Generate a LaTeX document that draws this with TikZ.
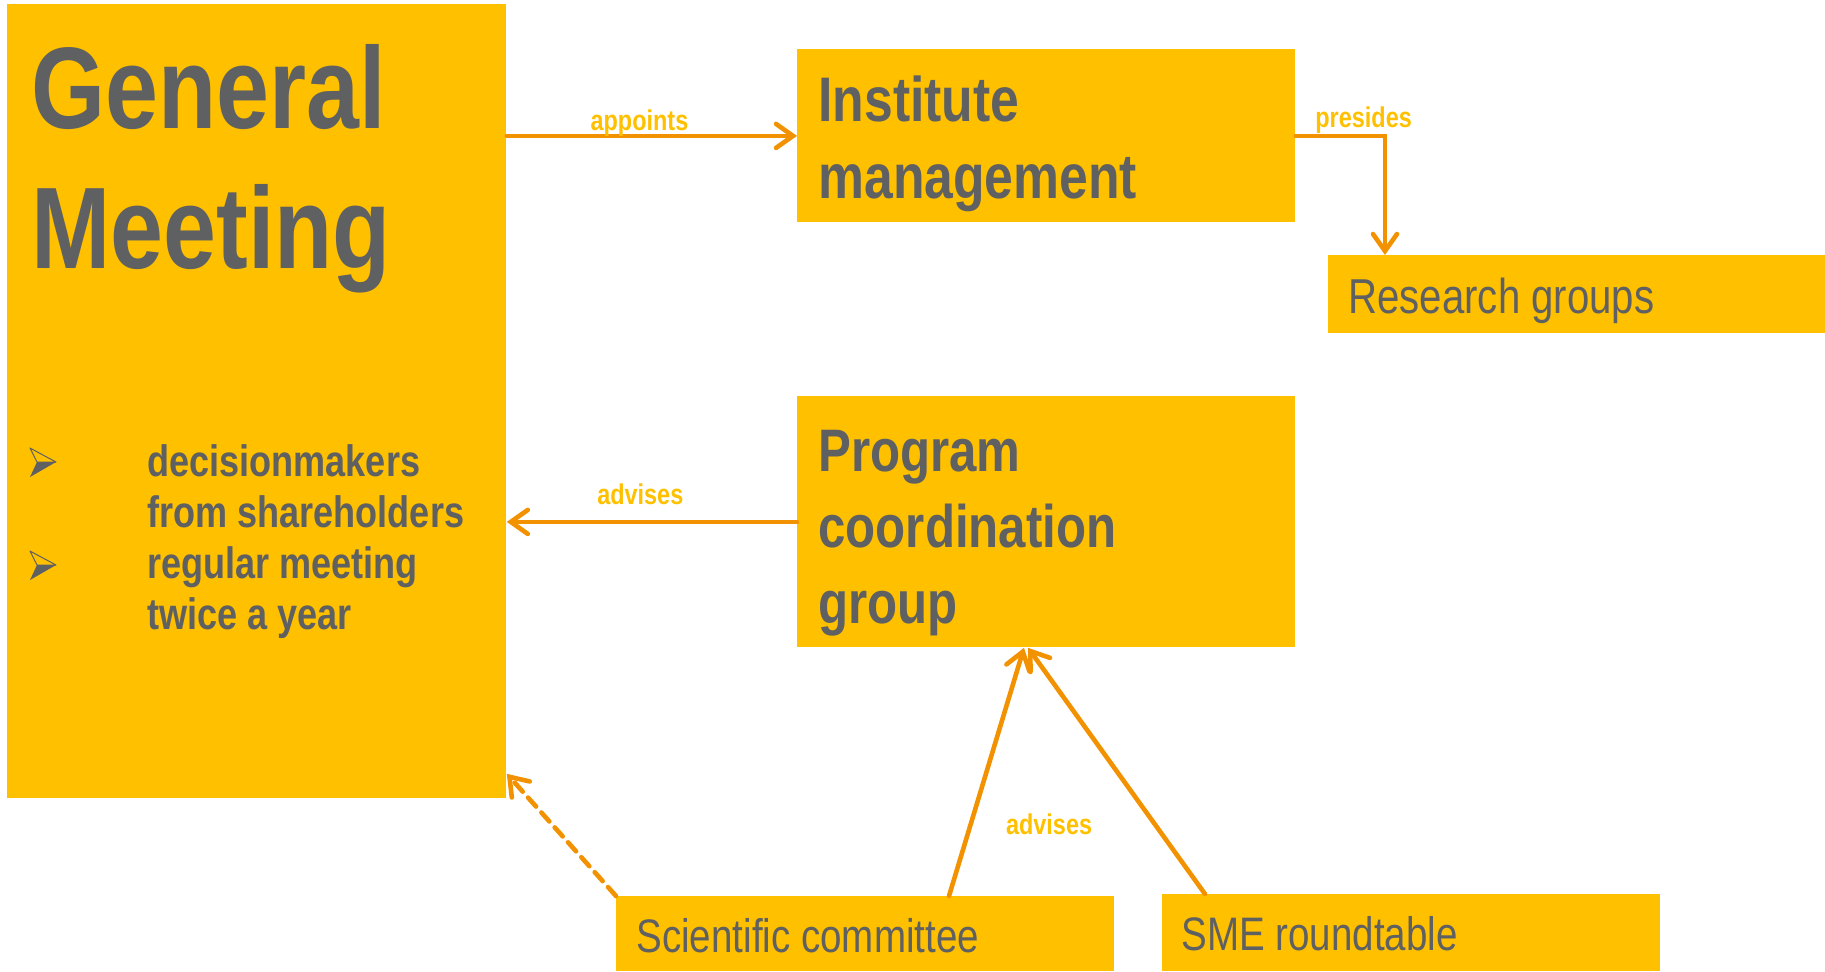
\documentclass[tikz,border=0pt]{standalone}
\usepackage{fontspec}
\setmainfont{Liberation Sans}[FakeStretch=0.82]
\usetikzlibrary{arrows.meta,calc}

\definecolor{boxyellow}{HTML}{FFC000}
\definecolor{textgray}{HTML}{5F6062}
\definecolor{linkorange}{HTML}{F39200}

\tikzset{
  orgbox/.style={fill=boxyellow, draw=none, inner sep=0pt, anchor=north west},
  boxtext/.style={anchor=base west, inner sep=0pt, align=left, text=textgray},
  link/.style={draw=linkorange, line width=2.3pt, line cap=round,
    -{Straight Barb[length=8.5pt,width=12pt,line cap=round]}},
  lbl/.style={text=boxyellow, font=\bfseries\fontsize{14.3}{16}\selectfont,
    inner sep=0pt, anchor=base},
}

\begin{document}
\begin{tikzpicture}[x=0.5pt,y=-0.5pt]
\useasboundingbox (0,0) rectangle (1825,971);

% boxes
\node[orgbox, minimum width=249.5pt, minimum height=397pt] (gm) at (7,4) {};
\node[orgbox, minimum width=249pt, minimum height=86.5pt] (im) at (797,49) {};
\node[orgbox, minimum width=248.5pt, minimum height=39pt] (rg) at (1328,255) {};
\node[orgbox, minimum width=249pt, minimum height=125.5pt] (pcg) at (797,396) {};
\node[orgbox, minimum width=249pt, minimum height=37.5pt] (sci) at (616,896) {};
\node[orgbox, minimum width=249pt, minimum height=38.5pt] (sme) at (1162,894) {};

% texts (anchored at the baseline of the last line)
\node[boxtext, font=\bfseries\fontsize{58}{70}\selectfont] (gmtitle) at (31,268) {General\\Meeting};
\node[boxtext, font=\bfseries\fontsize{22}{25.5}\selectfont] (gmlist) at (147,629)
  {decisionmakers\\from shareholders\\regular meeting\\twice a year};
\node[boxtext, font=\bfseries\fontsize{31.5}{38.5}\selectfont] (imtext) at (818,198) {Institute\\management};
\node[boxtext, font=\bfseries\fontsize{30}{38}\selectfont] (pcgtext) at (818,623) {Program\\coordination\\group};
\node[boxtext, font=\fontsize{24.5}{28}\selectfont] (rgtext) at (1348,313) {Research groups};
\node[boxtext, font=\fontsize{23.5}{28}\selectfont] (scitext) at (636,952) {Scientific committee};
\node[boxtext, font=\fontsize{23.5}{28}\selectfont] (smetext) at (1181,950) {SME roundtable};

% bullet marks
\foreach \by in {462,565} {
  \draw[textgray, line width=0.5pt, line join=round] (30,\by-14) -- (56,\by) -- (37,\by) -- cycle;
  \fill[textgray] (56,\by) -- (30,\by+15) -- (37,\by) -- cycle;
}

% connectors
\draw[link] (gm.east |- im.west) -- node[lbl, pos=0.457, yshift=2.5pt] {appoints} (im.west);
\draw[link] (im.east) -| node[lbl, pos=0.38, yshift=4pt] {presides} ($(rg.north west)+(57,0)$);
\draw[link] (pcg.west) -- node[lbl, pos=0.54, yshift=8.5pt] {advises} (pcg.west -| gm.east);
\draw[link] ($(sci.north west)+(333,0)$) -- node[lbl, pos=0.246, xshift=40.8pt] {advises}
  ($(pcg.south west)+(227,0)$);
\draw[link] ($(sme.north west)+(43,0)$) -- ($(pcg.south west)+(231,0)$);
\draw[link, dash pattern=on 6pt off 4pt] (sci.north west) -- ($(gm.south east)+(0,-25)$);
\end{tikzpicture}
\end{document}
